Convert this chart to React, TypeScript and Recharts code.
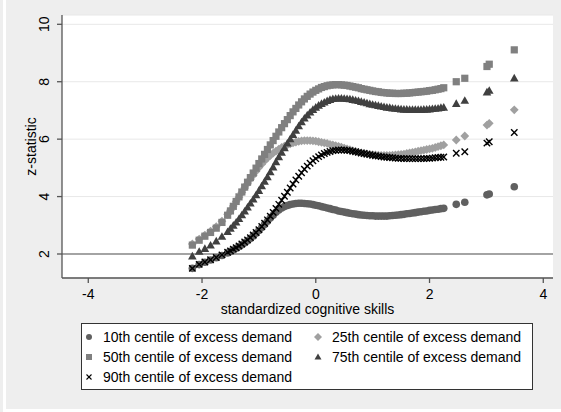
import React from "react";
import {
    ScatterChart,
    Scatter,
    XAxis,
    YAxis,
    CartesianGrid,
    ReferenceLine,
    Legend,
} from "recharts";

// standardized cognitive skills (x positions of the estimates)
const xs = [
    -2.17, -2.05, -1.95, -1.85, -1.75, -1.65, -1.55,
    -1.5, -1.45, -1.4, -1.35, -1.3, -1.25, -1.2, -1.15, -1.1, -1.05,
    -1.0, -0.95, -0.9, -0.85, -0.8, -0.75, -0.7, -0.65, -0.6, -0.55,
    -0.5, -0.45, -0.4, -0.35, -0.3, -0.25, -0.2, -0.15, -0.1, -0.05,
    0, 0.05, 0.1, 0.15, 0.2, 0.25, 0.3, 0.35, 0.4,
    0.45, 0.5, 0.55, 0.6, 0.65, 0.7, 0.75, 0.8, 0.85, 0.9, 0.95,
    1.0, 1.05, 1.1, 1.15, 1.2, 1.25, 1.3, 1.35, 1.4, 1.45,
    1.5, 1.55, 1.6, 1.65, 1.7, 1.75, 1.8, 1.85, 1.9, 1.95,
    2.0, 2.05, 2.1, 2.15, 2.2, 2.25,
    2.47, 2.62, 3.01, 3.05, 3.49,
];

// z-statistics by centile of excess demand
const p10 = [
    1.5, 1.63, 1.71, 1.79, 1.87, 1.95, 2.04,
    2.09, 2.14, 2.2, 2.26, 2.32, 2.39, 2.46, 2.54, 2.63, 2.72,
    2.82, 2.92, 3.03, 3.14, 3.25, 3.35, 3.45, 3.53, 3.6, 3.65,
    3.69, 3.72, 3.74, 3.76, 3.77, 3.77, 3.76, 3.75, 3.74, 3.72,
    3.7, 3.68, 3.65, 3.63, 3.6, 3.58, 3.55, 3.53, 3.5,
    3.48, 3.46, 3.44, 3.42, 3.4, 3.39, 3.37, 3.36, 3.35, 3.34, 3.33,
    3.33, 3.32, 3.32, 3.32, 3.32, 3.32, 3.33, 3.34, 3.35, 3.36,
    3.37, 3.38, 3.4, 3.41, 3.43, 3.44, 3.46, 3.47, 3.49, 3.5,
    3.52, 3.53, 3.55, 3.56, 3.58, 3.59,
    3.73, 3.8, 4.06, 4.09, 4.34,
];
const p25 = [
    2.35, 2.52, 2.66, 2.8, 2.95, 3.14, 3.38,
    3.52, 3.67, 3.83, 3.98, 4.14, 4.3, 4.45, 4.6, 4.74, 4.88,
    5.01, 5.13, 5.24, 5.34, 5.43, 5.51, 5.58, 5.65, 5.71, 5.76,
    5.8, 5.84, 5.87, 5.9, 5.92, 5.94, 5.95, 5.95, 5.95, 5.94,
    5.93, 5.91, 5.89, 5.87, 5.85, 5.82, 5.8, 5.77, 5.75,
    5.72, 5.69, 5.66, 5.63, 5.6, 5.57, 5.54, 5.52, 5.5, 5.49, 5.47,
    5.46, 5.45, 5.44, 5.43, 5.43, 5.43, 5.43, 5.44, 5.45, 5.46,
    5.47, 5.48, 5.5, 5.52, 5.54, 5.56, 5.58, 5.6, 5.62, 5.64,
    5.66, 5.68, 5.71, 5.74, 5.77, 5.8,
    5.97, 6.11, 6.49, 6.55, 7.02,
];
const p50 = [
    2.31, 2.48, 2.62, 2.75, 2.9, 3.1, 3.35,
    3.5, 3.66, 3.83, 3.99, 4.16, 4.33, 4.5, 4.66, 4.82, 4.99,
    5.15, 5.31, 5.47, 5.64, 5.8, 5.95, 6.1, 6.25, 6.4, 6.54,
    6.68, 6.82, 6.95, 7.07, 7.19, 7.3, 7.4, 7.49, 7.57, 7.64,
    7.7, 7.75, 7.8, 7.83, 7.86, 7.88, 7.89, 7.9, 7.9,
    7.89, 7.88, 7.87, 7.85, 7.83, 7.81, 7.79, 7.76, 7.74, 7.72, 7.7,
    7.68, 7.66, 7.65, 7.63, 7.62, 7.61, 7.6, 7.6, 7.59, 7.59,
    7.59, 7.6, 7.6, 7.61, 7.62, 7.63, 7.64, 7.65, 7.66, 7.67,
    7.69, 7.7, 7.72, 7.74, 7.76, 7.79,
    8.0, 8.12, 8.53, 8.61, 9.11,
];
const p75 = [
    1.92, 2.08, 2.18, 2.3, 2.44, 2.6, 2.77,
    2.88, 2.99, 3.1, 3.22, 3.35, 3.48, 3.62, 3.76, 3.9, 4.05,
    4.2, 4.36, 4.52, 4.68, 4.85, 5.02, 5.2, 5.37, 5.53, 5.69,
    5.85, 6.0, 6.15, 6.3, 6.45, 6.59, 6.72, 6.83, 6.93, 7.02,
    7.1, 7.17, 7.23, 7.28, 7.33, 7.37, 7.4, 7.41, 7.42,
    7.42, 7.41, 7.4, 7.39, 7.37, 7.35, 7.33, 7.3, 7.28, 7.25, 7.22,
    7.2, 7.18, 7.16, 7.14, 7.12, 7.1, 7.09, 7.07, 7.06, 7.05,
    7.04, 7.03, 7.03, 7.02, 7.02, 7.02, 7.02, 7.02, 7.03, 7.03,
    7.04, 7.05, 7.06, 7.07, 7.09, 7.1,
    7.23, 7.34, 7.63, 7.69, 8.12,
];
const p90 = [
    1.5, 1.64, 1.72, 1.8, 1.88, 1.97, 2.06,
    2.11, 2.17, 2.22, 2.28, 2.35, 2.42, 2.49, 2.57, 2.66, 2.75,
    2.85, 2.96, 3.07, 3.19, 3.32, 3.45, 3.59, 3.73, 3.87, 4.01,
    4.15, 4.3, 4.44, 4.58, 4.71, 4.83, 4.95, 5.06, 5.16, 5.25,
    5.32, 5.39, 5.45, 5.5, 5.54, 5.57, 5.6, 5.61, 5.62,
    5.62, 5.62, 5.61, 5.6, 5.58, 5.56, 5.54, 5.52, 5.5, 5.48, 5.46,
    5.44, 5.42, 5.41, 5.39, 5.38, 5.37, 5.36, 5.35, 5.34, 5.33,
    5.33, 5.32, 5.32, 5.32, 5.32, 5.32, 5.32, 5.32, 5.32, 5.33,
    5.33, 5.34, 5.35, 5.36, 5.37, 5.38,
    5.51, 5.56, 5.86, 5.91, 6.23,
];

const seriesNames = [
    "10th centile of excess demand",
    "25th centile of excess demand",
    "50th centile of excess demand",
    "75th centile of excess demand",
    "90th centile of excess demand",
];
const xTicks = [-4, -2, 0, 2, 4];
const yTicks = [2, 4, 6, 8, 10];

const font = "'Liberation Sans', Arial, Helvetica, sans-serif";
const axisColor = "#555";

const toPoints = (ys: number[]) => xs.map((x, i) => ({ x, y: ys[i] }));

// marker shapes (stata style)
const circleShape = (p: any) => <circle cx={p.cx} cy={p.cy} r={3.8} fill="#606060" />;
const diamondShape = (p: any) => {
    const r = 4.4;
    return (
        <polygon
            points={`${p.cx},${p.cy - r} ${p.cx + r},${p.cy} ${p.cx},${p.cy + r} ${p.cx - r},${p.cy}`}
            fill="#a0a0a0"
        />
    );
};
const squareShape = (p: any) => (
    <rect x={p.cx - 3.6} y={p.cy - 3.6} width={7.2} height={7.2} fill="#808080" />
);
const triangleShape = (p: any) => (
    <polygon
        points={`${p.cx},${p.cy - 4.5} ${p.cx + 4.3},${p.cy + 3.1} ${p.cx - 4.3},${p.cy + 3.1}`}
        fill="#404040"
    />
);
const crossShape = (p: any) => {
    const r = 3.2;
    return (
        <g stroke="#000" strokeWidth={1.4}>
            <line x1={p.cx - r} y1={p.cy - r} x2={p.cx + r} y2={p.cy + r} />
            <line x1={p.cx - r} y1={p.cy + r} x2={p.cx + r} y2={p.cy - r} />
        </g>
    );
};

const legendMarker = (i: number) => {
    switch (i) {
        case 0:
            return <circle cx={6} cy={6} r={3} fill="#606060" />;
        case 1:
            return <polygon points="6,2 10,6 6,10 2,6" fill="#a0a0a0" />;
        case 2:
            return <rect x={3} y={3} width={6} height={6} fill="#808080" />;
        case 3:
            return <polygon points="6,2.5 9.5,8.5 2.5,8.5" fill="#404040" />;
        default:
            return (
                <g stroke="#000" strokeWidth={1.1}>
                    <line x1={3.5} y1={3.5} x2={8.5} y2={8.5} />
                    <line x1={3.5} y1={8.5} x2={8.5} y2={3.5} />
                </g>
            );
    }
};

const LegendBox = () => (
    <div
        style={{
            position: "relative",
            width: 452,
            height: 67,
            border: "1px solid #333",
            background: "#fff",
            boxSizing: "border-box",
            fontFamily: font,
            fontSize: 14,
            color: "#000",
        }}
    >
        {seriesNames.map((name, i) => {
            const col = i % 2;
            const row = Math.floor(i / 2);
            return (
                <div
                    key={name}
                    style={{
                        position: "absolute",
                        left: col ? 230 : 1,
                        top: 3 + row * 20,
                        height: 20,
                        display: "flex",
                        alignItems: "center",
                        whiteSpace: "nowrap",
                    }}
                >
                    <svg width={12} height={12}>
                        {legendMarker(i)}
                    </svg>
                    <span style={{ marginLeft: 8 }}>{name}</span>
                </div>
            );
        })}
    </div>
);

const YTick = (props: any) => {
    const { y, payload } = props;
    return (
        <text
            x={44}
            y={y}
            dy="0.36em"
            textAnchor="middle"
            transform={`rotate(-90, 44, ${y})`}
            fill="#000"
            fontSize={14}
            fontFamily={font}
        >
            {payload.value}
        </text>
    );
};

const App = () => {
    return (
        <div
            style={{
                position: "absolute",
                left: 0,
                top: 0,
                width: 561,
                height: 412,
                background: "#fff",
                fontFamily: font,
            }}
        >
            <div style={{ position: "absolute", left: 0, top: 0, width: 3, height: 412, background: "#eeeeee" }} />
            <div style={{ position: "absolute", left: 6, top: 0, width: 555, height: 409, background: "#eeeeee" }} />
            <div style={{ position: "absolute", left: 0, top: 0 }}>
                <ScatterChart
                    width={561}
                    height={412}
                    margin={{ top: 15, right: 8, bottom: 94, left: 0 }}
                >
                    <CartesianGrid
                        vertical={false}
                        stroke="#e8e8e8"
                        fill="#fff"
                        fillOpacity={1}
                    />
                    <XAxis
                        type="number"
                        dataKey="x"
                        domain={[-4.462, 4.171]}
                        ticks={xTicks}
                        allowDataOverflow
                        height={40}
                        tickSize={5}
                        tickMargin={6}
                        stroke={axisColor}
                        strokeWidth={1.3}
                        tick={{ fill: "#000", fontSize: 14, fontFamily: font }}
                        label={{
                            value: "standardized cognitive skills",
                            position: "insideTop",
                            offset: 26,
                            fill: "#000",
                            fontSize: 14,
                            fontFamily: font,
                        }}
                    />
                    <YAxis
                        type="number"
                        dataKey="y"
                        domain={[1.164, 10.324]}
                        ticks={yTicks}
                        allowDataOverflow
                        width={62}
                        tickSize={5}
                        stroke={axisColor}
                        strokeWidth={1.3}
                        tick={<YTick />}
                        label={{
                            value: "z-statistic",
                            angle: -90,
                            position: "center",
                            fill: "#000",
                            fontSize: 14,
                            fontFamily: font,
                        }}
                    />
                    <ReferenceLine y={2} stroke={axisColor} strokeWidth={1.2} />
                    <Scatter name={seriesNames[0]} data={toPoints(p10)} shape={circleShape} isAnimationActive={false} />
                    <Scatter name={seriesNames[1]} data={toPoints(p25)} shape={diamondShape} isAnimationActive={false} />
                    <Scatter name={seriesNames[2]} data={toPoints(p50)} shape={squareShape} isAnimationActive={false} />
                    <Scatter name={seriesNames[3]} data={toPoints(p75)} shape={triangleShape} isAnimationActive={false} />
                    <Scatter name={seriesNames[4]} data={toPoints(p90)} shape={crossShape} isAnimationActive={false} />
                    <Legend
                        layout="horizontal"
                        verticalAlign="middle"
                        align="center"
                        content={() => <LegendBox />}
                        wrapperStyle={{ top: 323, left: 81, width: 452, height: 67 }}
                    />
                </ScatterChart>
            </div>
        </div>
    );
};

export default App;
